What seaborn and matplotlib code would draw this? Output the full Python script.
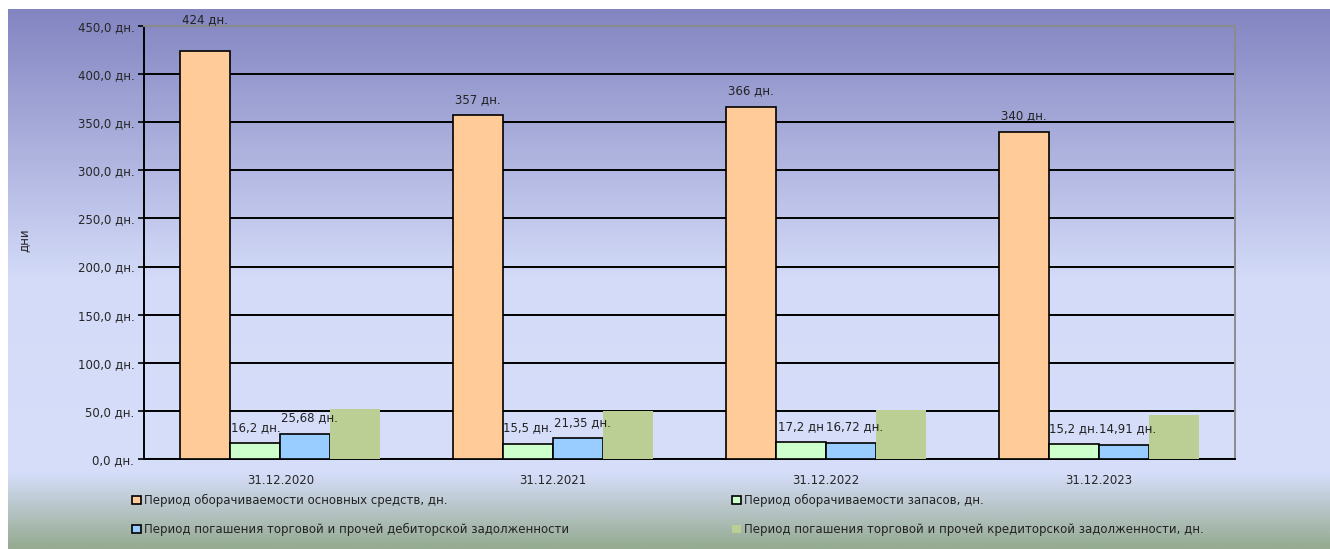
import numpy as np
import pandas as pd
import matplotlib
matplotlib.use("Agg")
import matplotlib.pyplot as plt
from matplotlib.colors import LinearSegmentedColormap
from matplotlib.patches import Patch
import seaborn as sns

# ---- data ----
dates = ["31.12.2020", "31.12.2021", "31.12.2022", "31.12.2023"]
series = [
    "Период оборачиваемости основных средств, дн.",
    "Период оборачиваемости запасов, дн.",
    "Период погашения торговой и прочей дебиторской задолженности",
    "Период погашения торговой и прочей кредиторской задолженности, дн.",
]
fixed_assets = [424, 357, 366, 340]
inventory = [16.2, 15.5, 17.2, 15.2]
receivables = [25.68, 21.35, 16.72, 14.91]
payables = [52, 49.5, 51, 46]

fixed_labels = ["424 дн.", "357 дн.", "366 дн.", "340 дн."]
inventory_labels = ["16,2 дн.", "15,5 дн.", "17,2 дн", "15,2 дн."]
receivable_labels = ["25,68 дн.", "21,35 дн.", "16,72 дн.", "14,91 дн."]

yticks = [0, 50, 100, 150, 200, 250, 300, 350, 400, 450]
ytick_labels = ["0,0 дн.", "50,0 дн.", "100,0 дн.", "150,0 дн.", "200,0 дн.",
                "250,0 дн.", "300,0 дн.", "350,0 дн.", "400,0 дн.", "450,0 дн."]

colors = ["#FFCC99", "#CCFFCC", "#99CCFF", "#BBCF95"]

rows = []
for name, vals in zip(series, [fixed_assets, inventory, receivables, payables]):
    for d, v in zip(dates, vals):
        rows.append({"date": d, "series": name, "value": v})
df = pd.DataFrame(rows)

sns.set_theme(style="white")
plt.rcParams["font.family"] = ["DejaVu Sans"]
plt.rcParams["text.color"] = "#222222"

W, H = 1330, 549
fig = plt.figure(figsize=(W / 100, H / 100), dpi=100)
fig.patch.set_facecolor("white")

# background gradient box
bg = fig.add_axes([8 / W, 0, 1 - 8 / W, (H - 9) / H])
bg.set_axis_off()
cmap = LinearSegmentedColormap.from_list(
    "bg",
    [(0.0, "#8385C1"), (0.5, "#D3DBF8"), (0.86, "#D6DEFA"), (1.0, "#96AB92")],
)
grad = np.linspace(0, 1, 400).reshape(-1, 1)
bg.imshow(grad, aspect="auto", cmap=cmap, extent=[0, 1, 0, 1], origin="upper")
bg.set_xlim(0, 1)
bg.set_ylim(0, 1)

ax = fig.add_axes([144 / W, 1 - 459 / H, (1235 - 144) / W, (459 - 26) / H])
ax.patch.set_alpha(0)

sns.barplot(data=df, x="date", y="value", hue="series", hue_order=series,
            order=dates, palette=colors, width=0.733, saturation=1,
            legend=False, ax=ax, zorder=3)

for i, cont in enumerate(ax.containers):
    for p in cont:
        if i < 3:
            p.set_edgecolor("black")
            p.set_linewidth(1.2)
        else:
            p.set_edgecolor("none")
            p.set_linewidth(0)

t0 = ax.bar_label(ax.containers[0], labels=fixed_labels, padding=7, fontsize=8.5)
t0[0].xyann = (0, 18)
ax.bar_label(ax.containers[1], labels=inventory_labels, padding=7, fontsize=8.5)
t2 = ax.bar_label(ax.containers[2], labels=receivable_labels, padding=7, fontsize=8.5)
for t in t2:
    t.xyann = (3, 7)

ax.set_ylim(0, 450)
ax.set_yticks(yticks)
ax.set_yticklabels(ytick_labels, fontsize=8.5)
ax.tick_params(axis="y", length=4, width=1.2, color="black", pad=3, left=True)
ax.tick_params(axis="x", length=0, pad=11, labelsize=8.5)
ax.set_xlabel("")
ax.set_ylabel("дни", fontsize=8.5)
ax.yaxis.set_label_coords(-0.1045, 0.506)

ax.set_axisbelow(True)
ax.yaxis.grid(True, color="black", linewidth=1.4)
ax.xaxis.grid(False)
for side in ["left", "bottom"]:
    ax.spines[side].set_color("black")
    ax.spines[side].set_linewidth(1.4)
for side in ["top", "right"]:
    ax.spines[side].set_color("#8C8C8C")
    ax.spines[side].set_linewidth(1.4)
    ax.spines[side].set_visible(True)

# legend (two columns built as two legends)
def handle(i):
    if i < 3:
        return Patch(facecolor=colors[i], edgecolor="black", linewidth=1.2)
    return Patch(facecolor=colors[i], edgecolor="none")

leg_kw = dict(frameon=False, fontsize=8.5, handlelength=0.75, handleheight=0.75,
              handletextpad=0.3, labelspacing=1.35, borderaxespad=0, borderpad=0,
              loc="upper left")
leg1 = fig.legend([handle(0), handle(2)], [series[0], series[2]],
                  bbox_to_anchor=(132 / W, 1 - 494 / H), **leg_kw)
leg2 = fig.legend([handle(1), handle(3)], [series[1], series[3]],
                  bbox_to_anchor=(732 / W, 1 - 494 / H), **leg_kw)

fig.savefig("out.png", dpi=100)
